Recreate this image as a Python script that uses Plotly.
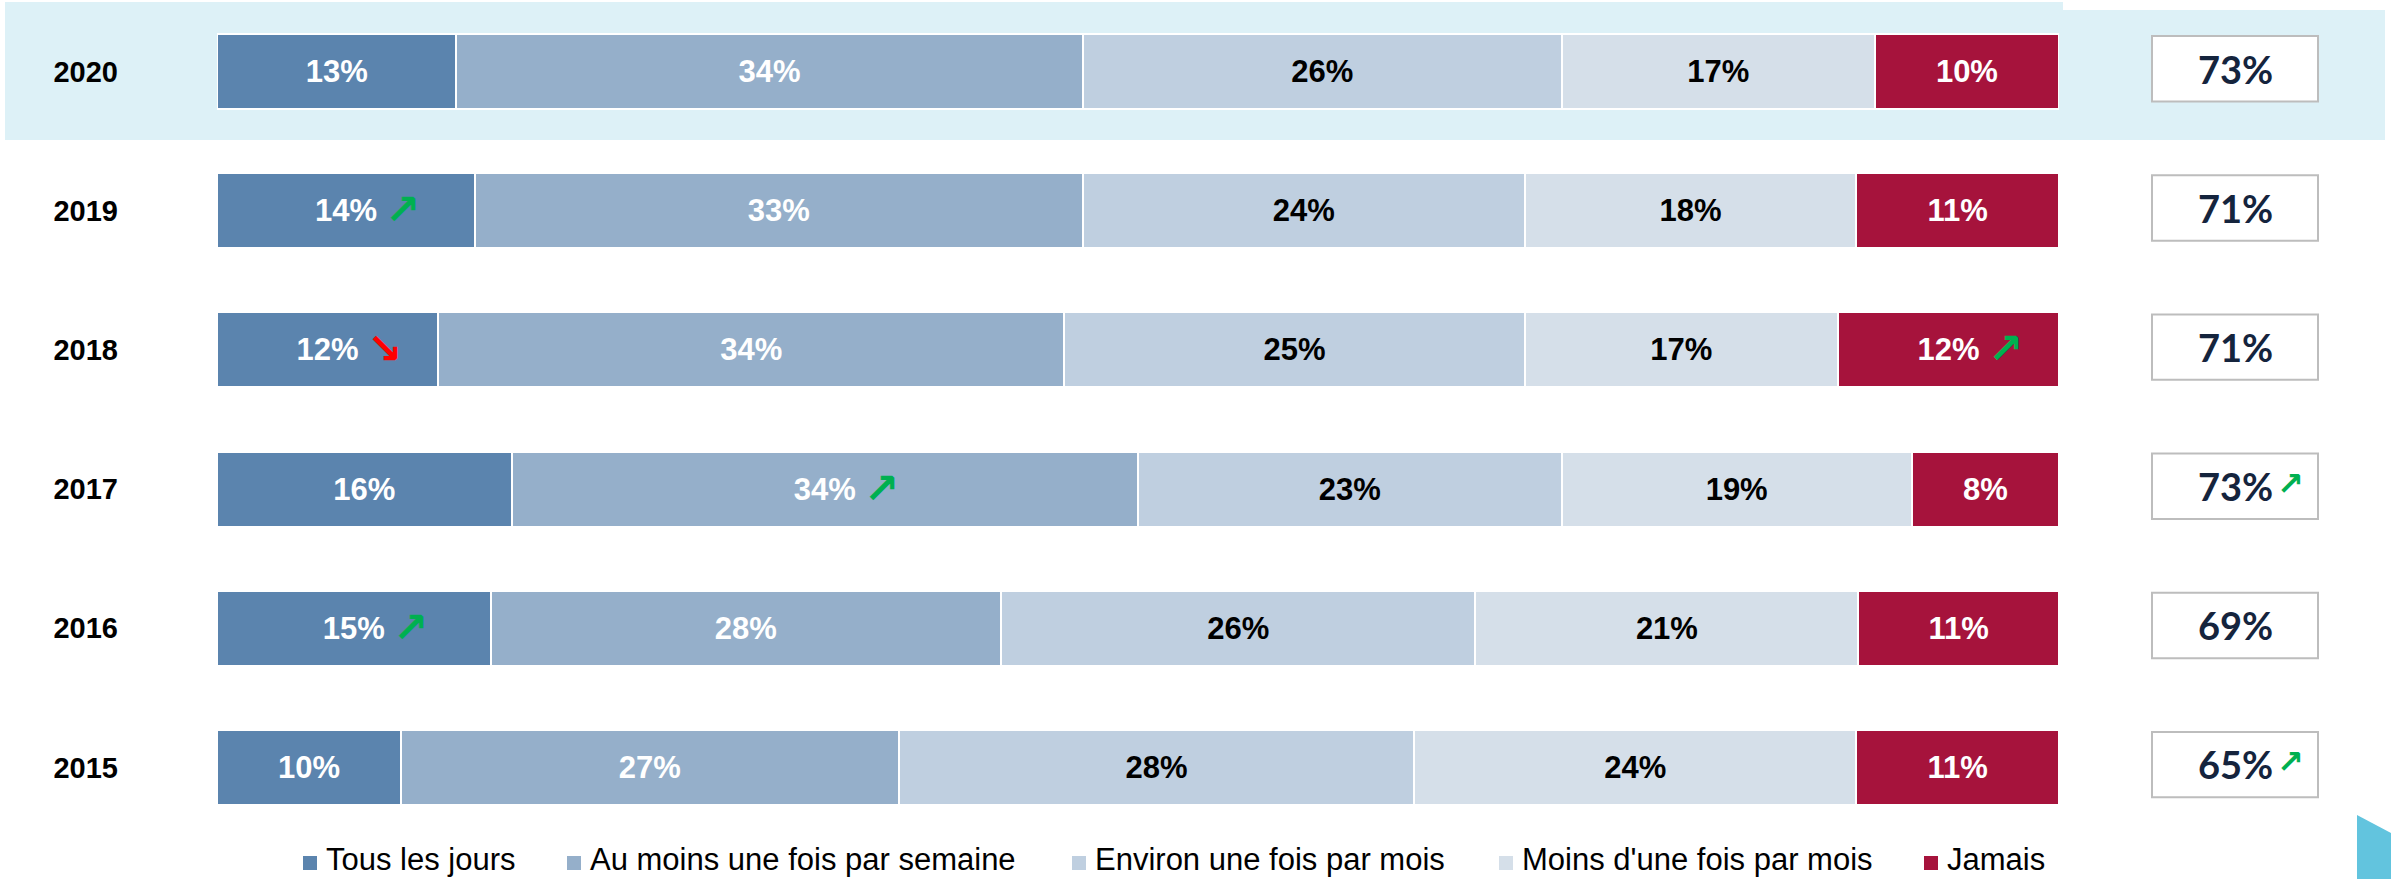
import plotly.graph_objects as go

# ---------------- data ----------------
years = ["2020", "2019", "2018", "2017", "2016", "2015"]
series_names = ["Tous les jours", "Au moins une fois par semaine",
                "Environ une fois par mois", "Moins d'une fois par mois", "Jamais"]
tous = [13, 14, 12, 16, 15, 10]
semaine = [34, 33, 34, 34, 28, 27]
environ = [26, 24, 25, 23, 26, 28]
moins = [17, 18, 17, 19, 21, 24]
jamais = [10, 11, 12, 8, 11, 11]
totals = [73, 71, 71, 73, 69, 65]
total_trend = ["", "", "", "up", "", "up"]
arrow_year = ["2019", "2018", "2018", "2017", "2016"]
arrow_series = [0, 0, 4, 1, 0]
arrow_dir = ["up", "down", "up", "up", "up"]

# ---------------- style ----------------
colors = ["#5B84AE", "#95AFCA", "#BFCFE0", "#D5DFE9", "#A6133C"]
text_colors = ["white", "white", "black", "black", "white"]
legend_marker_px = [303, 567, 1072, 1499, 1924]
W, H = 2391, 879
L, R, T, B = 217, 332, 2, 42
PW, PH = W - L - R, H - T - B
FONT = "Liberation Sans, Arial, sans-serif"


def px_x(px):
    return (px - L) / PW


def px_y(py):
    return (H - B - py) / PH


series = [tous, semaine, environ, moins, jamais]
idx = list(range(len(years)))

fig = go.Figure()
for i, name in enumerate(series_names):
    fig.add_trace(go.Bar(
        y=idx, x=series[i], orientation="h", name=name,
        marker=dict(color=colors[i], line=dict(color="white", width=2)),
        text=[f"{v}%" for v in series[i]],
        textposition="inside", insidetextanchor="middle", textangle=0,
        textfont=dict(family=FONT, size=31, color=text_colors[i], weight="bold"),
        width=0.54, hoverinfo="skip", showlegend=False,
    ))

shapes = []
annotations = []

# highlight band for the first row
shapes.append(dict(type="rect", xref="paper", yref="paper", layer="below",
                   x0=px_x(5), x1=px_x(2063), y0=px_y(140), y1=px_y(2),
                   fillcolor="#DDF1F7", line=dict(width=0)))
shapes.append(dict(type="rect", xref="paper", yref="paper", layer="below",
                   x0=px_x(2063), x1=px_x(2385), y0=px_y(140), y1=px_y(10),
                   fillcolor="#DDF1F7", line=dict(width=0)))

# arrows inside bars
for yr, s, d in zip(arrow_year, arrow_series, arrow_dir):
    r = years.index(yr)
    row_total = sum(ser[r] for ser in series)
    cum = sum(series[k][r] for k in range(s))
    center = (cum + series[s][r] / 2) / row_total * 100
    annotations.append(dict(
        x=center, y=r, xref="x", yref="y", showarrow=False,
        xanchor="center", yanchor="middle",
        text="↗" if d == "up" else "↘", xshift=57, yshift=1,
        font=dict(family="DejaVu Sans", size=42, weight="bold",
                  color="#00B050" if d == "up" else "#FF0000")))

# total boxes
bx0, bx1 = px_x(2152), px_x(2318)
bxc = (bx0 + bx1) / 2
for r, tot in enumerate(totals):
    shapes.append(dict(type="rect", xref="paper", yref="y",
                       x0=bx0, x1=bx1, y0=r - 0.255, y1=r + 0.215,
                       fillcolor="white", line=dict(color="#BDBDBD", width=2)))
    annotations.append(dict(x=bxc, y=r, xref="paper", yref="y", showarrow=False,
                            xanchor="center", yanchor="middle",
                            text=f"{tot}%", yshift=3,
                            font=dict(family="Lato, sans-serif", size=38,
                                      color="#15243D", weight="bold")))
    if total_trend[r] == "up":
        annotations.append(dict(x=bxc, y=r, xref="paper", yref="y", showarrow=False,
                                xanchor="center", yanchor="middle",
                                text="↗", xshift=55, yshift=5,
                                font=dict(family="DejaVu Sans", size=32,
                                          color="#00B050", weight="bold")))

# legend (drawn as squares + labels)
for i, name in enumerate(series_names):
    mx = legend_marker_px[i]
    shapes.append(dict(type="rect", xref="paper", yref="paper",
                       x0=px_x(mx), x1=px_x(mx + 14), y0=px_y(870), y1=px_y(856),
                       fillcolor=colors[i], line=dict(width=0)))
    annotations.append(dict(x=px_x(mx + 22), y=px_y(878), xref="paper", yref="paper",
                            showarrow=False, xanchor="left", yanchor="bottom",
                            borderpad=0, text=name,
                            font=dict(family=FONT, size=31, color="black")))

# decorative corner shape
pts = [(2357, 815), (2391, 833), (2391, 879), (2357, 879)]
path = "M " + " L ".join(f"{px_x(a):.5f},{px_y(b):.5f}" for a, b in pts) + " Z"
shapes.append(dict(type="path", xref="paper", yref="paper", path=path,
                   fillcolor="#62C4DE", line=dict(width=0)))

fig.update_layout(
    width=W, height=H,
    margin=dict(l=L, r=R, t=T, b=B, autoexpand=False),
    barmode="stack", barnorm="percent",
    paper_bgcolor="white", plot_bgcolor="rgba(0,0,0,0)",
    showlegend=False,
    xaxis=dict(range=[0, 100], showgrid=False, zeroline=False,
               showticklabels=False, showline=False, fixedrange=True),
    yaxis=dict(range=[len(years) - 0.5, -0.5], tickvals=idx, ticktext=years,
               showgrid=False, zeroline=False, showline=False, ticks="",
               ticklabelstandoff=98,
               tickfont=dict(family=FONT, size=29, color="black", weight="bold")),
    shapes=shapes, annotations=annotations,
)

fig.write_html("out.html", config={"displayModeBar": False},
               post_script="document.body.style.margin='0';document.body.style.overflow='hidden';")
